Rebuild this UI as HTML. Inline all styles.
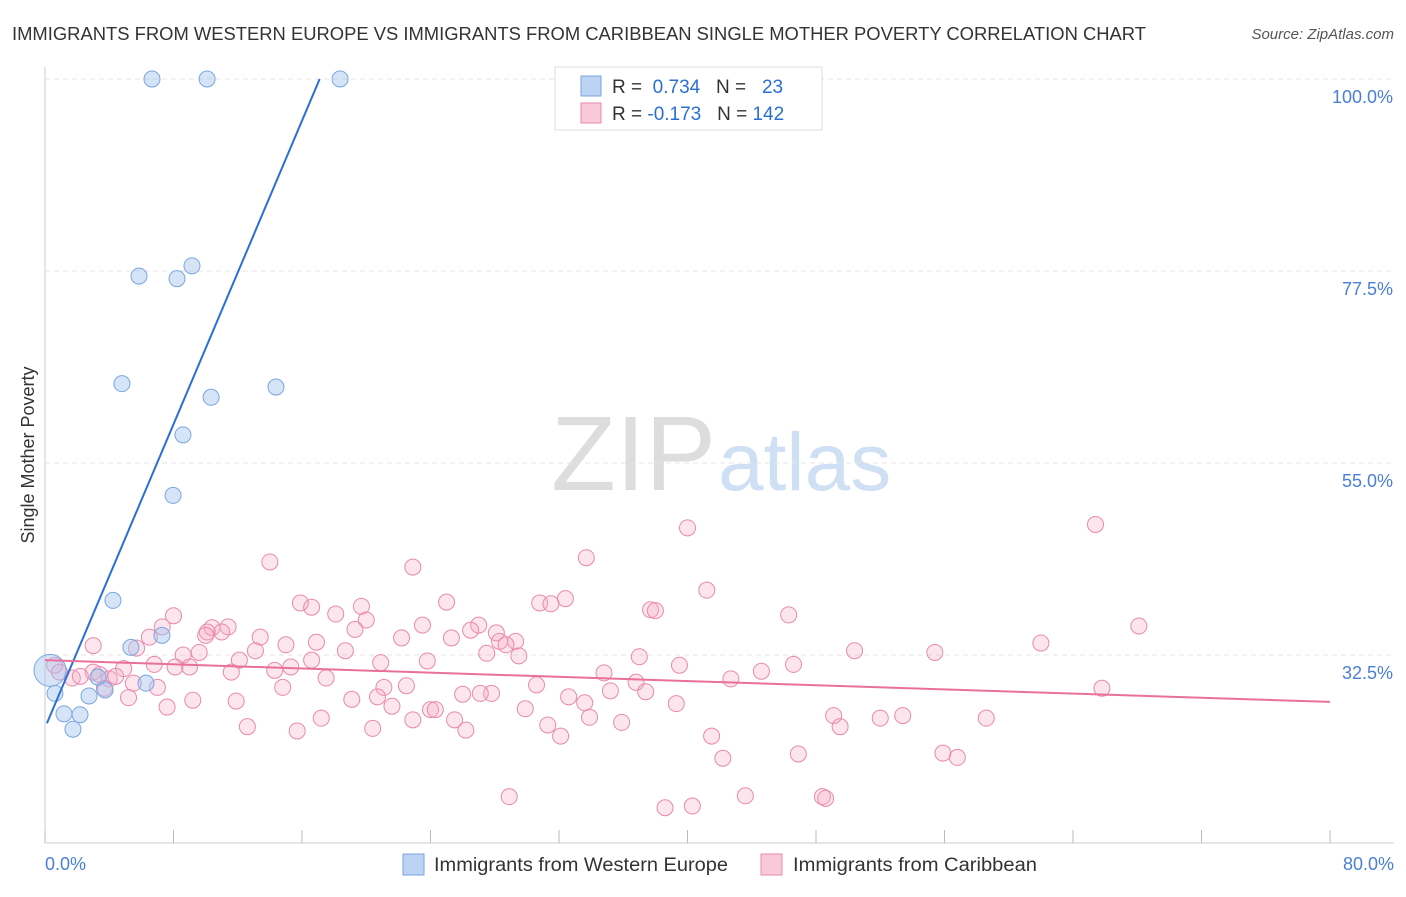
<!DOCTYPE html>
<html><head><meta charset="utf-8"><style>
body{margin:0;background:#fff;font-family:"Liberation Sans",sans-serif;}
svg text{font-family:"Liberation Sans",sans-serif;}
</style></head><body>
<svg id="chart" width="1406" height="892" viewBox="0 0 1406 892">
<text x="12" y="40" font-size="18" fill="#333" textLength="1134" lengthAdjust="spacingAndGlyphs">IMMIGRANTS FROM WESTERN EUROPE VS IMMIGRANTS FROM CARIBBEAN SINGLE MOTHER POVERTY CORRELATION CHART</text>
<text x="1394" y="39" font-size="15" fill="#555" font-style="italic" text-anchor="end">Source: ZipAtlas.com</text>
<text x="716" y="490" font-size="106" fill="#ddd" text-anchor="end" font-family="Liberation Serif">ZIP</text>
<text x="718" y="490" font-size="82" fill="#cfe0f4">atlas</text>
<g id="grid"></g>
<g id="axes"></g>
<g id="pts"></g>
<g id="lines"></g>
<text transform="translate(34,455) rotate(-90)" font-size="18" fill="#333" text-anchor="middle">Single Mother Poverty</text>
<text x="45" y="870" font-size="18" fill="#4a7fd6">0.0%</text>
<text x="1394" y="870" font-size="18" fill="#4a7fd6" text-anchor="end">80.0%</text>
<g>
<rect x="555" y="67" width="267" height="63" fill="#fff" stroke="#ddd"/>
<rect x="581" y="76" width="20" height="20" fill="#bcd3f3" stroke="#7aa6e0"/>
<rect x="581" y="103" width="20" height="20" fill="#f9c9d8" stroke="#e88aab"/>
<text x="612" y="93" font-size="19" fill="#333">R = <tspan fill="#2a6fd6">&#160;0.734</tspan>&#160;&#160;&#160;N = <tspan fill="#2a6fd6">&#160;&#160;23</tspan></text>
<text x="612" y="120" font-size="19" fill="#333">R = <tspan fill="#2a6fd6">-0.173</tspan>&#160;&#160;&#160;N = <tspan fill="#2a6fd6">142</tspan></text>
</g>
<g>
<rect x="403" y="854" width="21" height="21" fill="#bcd3f3" stroke="#7aa6e0"/>
<text x="434" y="871" font-size="19" fill="#333" textLength="294" lengthAdjust="spacingAndGlyphs">Immigrants from Western Europe</text>
<rect x="761" y="854" width="21" height="21" fill="#f9c9d8" stroke="#e88aab"/>
<text x="793" y="871" font-size="19" fill="#333" textLength="244" lengthAdjust="spacingAndGlyphs">Immigrants from Caribbean</text>
</g>
</svg>
<script>
const yTicks=[100,77.5,55,32.5];
const yTickLabels=["100.0%","77.5%","55.0%","32.5%"];
const xTicks=[0,8,16,24,32,40,48,56,64,72,80];
const blueX=[6.66,10.09,18.37,5.85,8.22,9.15,4.79,14.38,10.34,8.59,7.97,4.23,5.35,7.28,6.29,3.30,3.74,2.74,1.18,2.18,1.74,0.62,0.31];
const blueY=[100,100,100,76.9,76.6,78.1,64.3,63.9,62.7,58.3,51.2,38.9,33.4,34.8,29.2,29.9,28.4,27.7,25.6,25.5,23.8,28.0,30.7];
const blueR=[8,8,8,8,8,8,8,8,8,8,8,8,8,8,8,8,8,8,8,8,8,8,16];
const pinkX=[40.0,65.4,14.0,33.7,22.9,41.2,32.4,30.8,31.5,25.0,15.9,16.6,19.7,18.1,8.0,37.7,38.0,46.3,68.1,20.0,23.5,27.0,26.5,10.4,11.4,11.0,10.1,10.0,7.3,6.5,3.0,5.7,13.4,15.0,16.9,19.3,28.1,28.3,29.3,22.2,25.3,28.7,27.5,18.7,13.1,12.1,16.6,9.6,8.6,6.8,4.9,3.0,0.6,0.9,1.7,2.2,3.4,4.0,4.4,5.5,3.7,7.0,8.1,9.0,11.6,14.3,15.3,17.5,20.9,23.8,29.5,37.0,39.5,44.6,46.6,50.4,55.4,62.0,65.8,42.7,34.8,36.8,37.4,35.2,30.6,27.8,27.1,26.0,22.5,21.1,20.7,19.1,14.8,11.9,9.2,7.6,5.2,32.6,33.6,39.3,21.6,24.0,24.3,22.9,25.5,29.9,33.9,35.9,31.3,32.1,26.2,17.2,15.7,20.4,12.6,49.1,49.5,52.0,53.4,58.6,41.5,42.2,46.9,55.9,56.8,28.9,38.6,40.3,43.6,48.4,48.6];
const pinkY=[47.4,47.8,43.4,43.9,42.8,40.1,39.1,38.6,38.5,38.7,38.6,38.1,38.2,37.3,37.1,37.8,37.7,37.2,35.9,36.6,36.0,36.0,35.4,35.7,35.8,35.2,35.2,34.8,35.8,34.6,33.6,33.3,34.6,33.7,34.0,35.5,35.1,34.1,34.1,34.5,34.5,33.7,32.7,33.0,33.0,31.9,31.9,32.8,32.5,31.4,30.9,30.5,31.3,30.5,29.8,30.0,30.2,29.7,30.0,29.2,28.6,28.7,31.1,31.1,30.5,30.7,31.1,29.8,31.6,31.8,32.4,32.3,31.3,30.6,31.4,33.0,32.8,33.9,28.6,29.7,30.4,29.3,28.2,28.3,29.0,28.0,28.0,27.9,28.9,28.7,27.6,27.3,28.7,27.1,27.2,26.4,27.5,27.6,26.9,26.8,26.5,26.1,26.1,24.9,24.9,26.2,25.2,24.6,24.3,23.0,23.7,25.1,23.6,23.9,24.1,25.4,24.1,25.1,25.4,25.1,23.0,20.4,20.9,21.0,20.5,15.9,14.6,14.8,16.0,15.9,15.7];
const blueLineX=[0.12,17.1];
const blueLineY=[24.5,100];
const pinkLineX=[0,80];
const pinkLineY=[31.9,27.0];

const NS="http://www.w3.org/2000/svg";
const sx=v=>45+v*1285/80;
const sy=v=>79+(100-v)*192/22.5;
function mk(tag,attrs,parent){const e=document.createElementNS(NS,tag);for(const k in attrs)e.setAttribute(k,attrs[k]);parent.appendChild(e);return e;}
const grid=document.getElementById('grid'),axes=document.getElementById('axes'),pts=document.getElementById('pts'),lines=document.getElementById('lines');
yTicks.forEach((t,i)=>{
 const l=mk('line',{x1:45,x2:1394,y1:sy(t),y2:sy(t),stroke:'#e4e4e4','stroke-dasharray':'5,4'},grid);
 
 
 const tx=mk('text',{x:1393,y:sy(t)+24,'font-size':18,fill:'#4a7fd6','text-anchor':'end'},grid);
 tx.textContent=yTickLabels[i];
 
 
});
const xa=mk('line',{x1:45,x2:1394,y1:843,y2:843,stroke:'#ccc'},axes);


const ya=mk('line',{x1:45,x2:45,y1:67,y2:843,stroke:'#ccc'},axes);


xTicks.forEach(t=>{
 const l=mk('line',{x1:sx(t),x2:sx(t),y1:830,y2:843,stroke:'#bbb'},axes);
 
 
});
pinkX.forEach((x,i)=>{
 const c=mk('circle',{cx:sx(x),cy:sy(pinkY[i]),r:8,fill:'rgba(244,170,196,0.3)',stroke:'#e88aab','stroke-width':1},pts);
 
 
});
blueX.forEach((x,i)=>{
 const c=mk('circle',{cx:sx(x),cy:sy(blueY[i]),r:blueR[i],fill:'rgba(164,196,240,0.45)',stroke:'#7aa6e0','stroke-width':1},pts);
 
 
});
const bl=mk('line',{x1:sx(blueLineX[0]),y1:sy(blueLineY[0]),x2:sx(blueLineX[1]),y2:sy(blueLineY[1]),stroke:'#2a6fd6','stroke-width':2},lines);


const pl=mk('line',{x1:sx(pinkLineX[0]),y1:sy(pinkLineY[0]),x2:sx(pinkLineX[1]),y2:sy(pinkLineY[1]),stroke:'#e8709a','stroke-width':2},lines);


</script>
</body></html>
